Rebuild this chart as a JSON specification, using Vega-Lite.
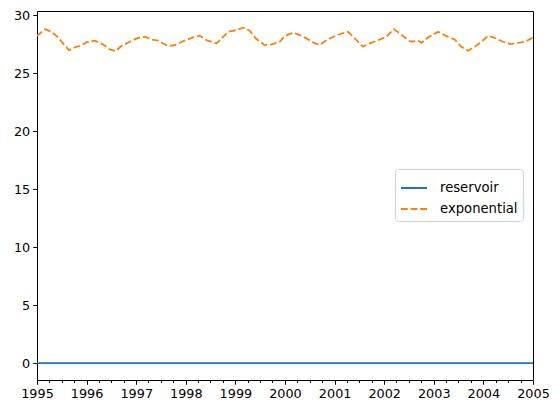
{
  "$schema": "https://vega.github.io/schema/vega-lite/v6.json",
  "width": 496,
  "height": 369,
  "autosize": {"type": "none"},
  "padding": {"left": 37, "top": 11, "right": 27, "bottom": 34},
  "background": "white",
  "config": {
    "view": {"stroke": "#000", "strokeWidth": 1},
    "font": "DejaVu Sans",
    "axis": {
      "grid": false, "domain": false, "tickColor": "#000", "tickWidth": 1, "tickSize": 4.25,
      "labelColor": "#000", "labelFont": "DejaVu Sans", "labelFontSize": 12.8, "labelPadding": 3, "titleFontSize": 0
    }
  },
  "data": {"values": [
    {"date": "1995-01-01", "series": "reservoir", "value": 0},
    {"date": "2005-01-01", "series": "reservoir", "value": 0},
    {"date": "1995-01-01", "series": "exponential", "value": 28.19},
    {"date": "1995-03-01", "series": "exponential", "value": 28.79},
    {"date": "1995-04-17", "series": "exponential", "value": 28.56},
    {"date": "1995-06-05", "series": "exponential", "value": 28.08},
    {"date": "1995-07-11", "series": "exponential", "value": 27.56},
    {"date": "1995-08-25", "series": "exponential", "value": 26.98},
    {"date": "1995-10-18", "series": "exponential", "value": 27.27},
    {"date": "1995-11-12", "series": "exponential", "value": 27.33},
    {"date": "1996-01-02", "series": "exponential", "value": 27.67},
    {"date": "1996-03-02", "series": "exponential", "value": 27.79},
    {"date": "1996-05-02", "series": "exponential", "value": 27.47},
    {"date": "1996-06-20", "series": "exponential", "value": 27.04},
    {"date": "1996-08-04", "series": "exponential", "value": 26.9},
    {"date": "1996-09-15", "series": "exponential", "value": 27.35},
    {"date": "1996-11-15", "series": "exponential", "value": 27.7},
    {"date": "1997-01-04", "series": "exponential", "value": 27.99},
    {"date": "1997-03-05", "series": "exponential", "value": 28.13},
    {"date": "1997-04-23", "series": "exponential", "value": 27.9},
    {"date": "1997-06-11", "series": "exponential", "value": 27.79},
    {"date": "1997-07-06", "series": "exponential", "value": 27.64},
    {"date": "1997-08-24", "series": "exponential", "value": 27.33},
    {"date": "1997-10-12", "series": "exponential", "value": 27.41},
    {"date": "1997-12-13", "series": "exponential", "value": 27.76},
    {"date": "1998-02-14", "series": "exponential", "value": 28.04},
    {"date": "1998-04-14", "series": "exponential", "value": 28.22},
    {"date": "1998-06-02", "series": "exponential", "value": 27.84},
    {"date": "1998-08-15", "series": "exponential", "value": 27.56},
    {"date": "1998-09-21", "series": "exponential", "value": 27.99},
    {"date": "1998-11-09", "series": "exponential", "value": 28.56},
    {"date": "1999-01-10", "series": "exponential", "value": 28.71},
    {"date": "1999-02-28", "series": "exponential", "value": 28.91},
    {"date": "1999-04-17", "series": "exponential", "value": 28.65},
    {"date": "1999-06-05", "series": "exponential", "value": 27.93},
    {"date": "1999-08-05", "series": "exponential", "value": 27.41},
    {"date": "1999-09-24", "series": "exponential", "value": 27.47},
    {"date": "1999-11-24", "series": "exponential", "value": 27.7},
    {"date": "2000-01-01", "series": "exponential", "value": 28.22},
    {"date": "2000-03-01", "series": "exponential", "value": 28.47},
    {"date": "2000-04-20", "series": "exponential", "value": 28.28},
    {"date": "2000-06-08", "series": "exponential", "value": 27.99},
    {"date": "2000-07-26", "series": "exponential", "value": 27.64},
    {"date": "2000-09-09", "series": "exponential", "value": 27.41},
    {"date": "2000-11-03", "series": "exponential", "value": 27.84},
    {"date": "2001-01-04", "series": "exponential", "value": 28.19},
    {"date": "2001-02-22", "series": "exponential", "value": 28.41},
    {"date": "2001-04-10", "series": "exponential", "value": 28.56},
    {"date": "2001-05-29", "series": "exponential", "value": 27.99},
    {"date": "2001-07-29", "series": "exponential", "value": 27.27},
    {"date": "2001-09-17", "series": "exponential", "value": 27.56},
    {"date": "2001-11-18", "series": "exponential", "value": 27.84},
    {"date": "2002-01-19", "series": "exponential", "value": 28.13},
    {"date": "2002-03-12", "series": "exponential", "value": 28.79},
    {"date": "2002-04-26", "series": "exponential", "value": 28.41},
    {"date": "2002-06-26", "series": "exponential", "value": 27.84},
    {"date": "2002-07-21", "series": "exponential", "value": 27.7},
    {"date": "2002-09-08", "series": "exponential", "value": 27.79},
    {"date": "2002-10-03", "series": "exponential", "value": 27.61},
    {"date": "2002-11-21", "series": "exponential", "value": 28.08},
    {"date": "2003-02-03", "series": "exponential", "value": 28.56},
    {"date": "2003-04-04", "series": "exponential", "value": 28.19},
    {"date": "2003-06-04", "series": "exponential", "value": 27.9},
    {"date": "2003-07-23", "series": "exponential", "value": 27.27},
    {"date": "2003-09-11", "series": "exponential", "value": 26.93},
    {"date": "2003-10-30", "series": "exponential", "value": 27.27},
    {"date": "2003-12-18", "series": "exponential", "value": 27.7},
    {"date": "2004-02-06", "series": "exponential", "value": 28.22},
    {"date": "2004-03-25", "series": "exponential", "value": 28.04},
    {"date": "2004-05-25", "series": "exponential", "value": 27.7},
    {"date": "2004-07-21", "series": "exponential", "value": 27.5},
    {"date": "2004-09-14", "series": "exponential", "value": 27.61},
    {"date": "2004-11-02", "series": "exponential", "value": 27.7},
    {"date": "2004-12-21", "series": "exponential", "value": 27.99},
    {"date": "2005-01-01", "series": "exponential", "value": 28.05}
  ]},
  "mark": {"type": "line", "strokeWidth": 1.8, "clip": true},
  "encoding": {
    "x": {
      "field": "date", "type": "temporal", "title": null,
      "scale": {"type": "utc", "domain": [{"year": 1995, "month": 1, "date": 1, "utc": true}, {"year": 2005, "month": 1, "date": 1, "utc": true}], "nice": false},
      "axis": {
        "tickCount": {"interval": "month", "step": 3},
        "labelExpr": "utcmonth(datum.value) == 0 ? utcFormat(datum.value, '%Y') : ''",
        "tickSize": {"condition": {"test": "utcmonth(datum.value) == 0", "value": 4.25}, "value": 2.4},
        "labelOverlap": false, "labelFlush": false
      }
    },
    "y": {
      "field": "value", "type": "quantitative", "title": null,
      "scale": {"domain": [-1.45, 30.35], "nice": false, "zero": false},
      "axis": {"values": [0, 5, 10, 15, 20, 25, 30]}
    },
    "color": {
      "field": "series", "type": "nominal",
      "scale": {"domain": ["reservoir", "exponential"], "range": ["#1f77b4", "#ff7f0e"]},
      "legend": {
        "title": null, "orient": "none", "legendX": 358, "legendY": 158,
        "symbolType": "stroke", "symbolSize": 676, "symbolStrokeWidth": 1.8,
        "labelFontSize": 13.2, "labelFont": "DejaVu Sans", "labelColor": "#000",
        "fillColor": "white", "strokeColor": "#d0d0d0", "cornerRadius": 3, "padding": 5,
        "rowPadding": -3, "labelOffset": 12
      }
    },
    "strokeDash": {
      "field": "series", "type": "nominal",
      "scale": {"domain": ["reservoir", "exponential"], "range": [[1, 0], [6.75, 2.9]]},
      "legend": {
        "title": null, "orient": "none", "legendX": 358, "legendY": 158,
        "symbolType": "stroke", "symbolSize": 676, "symbolStrokeWidth": 1.8,
        "labelFontSize": 13.2, "labelFont": "DejaVu Sans", "labelColor": "#000",
        "fillColor": "white", "strokeColor": "#d0d0d0", "cornerRadius": 3, "padding": 5,
        "rowPadding": -3, "labelOffset": 12
      }
    }
  }
}
